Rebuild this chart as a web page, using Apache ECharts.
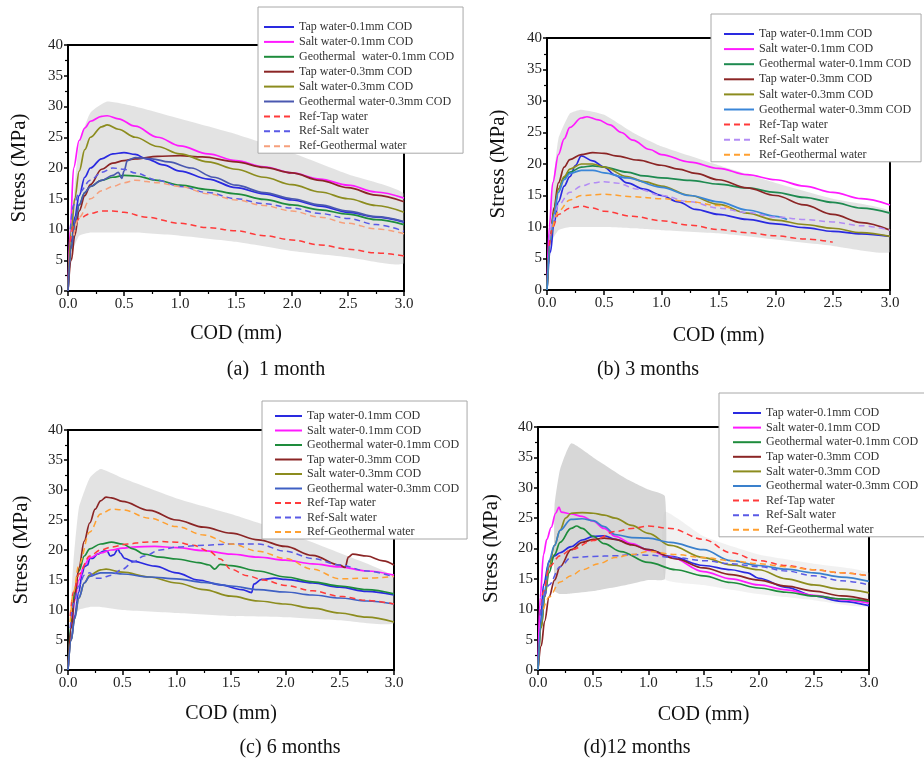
<!DOCTYPE html>
<html><head><meta charset="utf-8">
<script src="https://cdn.jsdelivr.net/npm/echarts@6/dist/echarts.min.js"></script>
<style>html,body{margin:0;padding:0;background:#fff}#c{width:924px;height:763px}</style>
</head><body><div id="c"></div>
<script>
// ---------- labels ----------
const seriesNames = ['Tap water-0.1mm COD','Salt water-0.1mm COD','Geothermal water-0.1mm COD','Tap water-0.3mm COD','Salt water-0.3mm COD','Geothermal water-0.3mm COD','Ref-Tap water','Ref-Salt water','Ref-Geothermal water'];
const seriesNamesA = ['Tap water-0.1mm COD','Salt water-0.1mm COD','Geothermal  water-0.1mm COD','Tap water-0.3mm COD','Salt water-0.3mm COD','Geothermal water-0.3mm COD','Ref-Tap water','Ref-Salt water','Ref-Geothermal water'];
const captions = ['(a)  1 month','(b) 3 months','(c) 6 months','(d)12 months'];
const xTickValues = [0,0.5,1,1.5,2,2.5,3];
const yTickValues = [0,5,10,15,20,25,30,35,40];

// ---------- panel (a) 1 month ----------
const a_tap01 = [[0,0],[0.03,8],[0.06,12],[0.1,15.5],[0.15,18.5],[0.2,20],[0.3,21.5],[0.4,22.3],[0.5,22.5],[0.6,22.2],[0.7,21.5],[0.85,20.5],[1.0,19.5],[1.25,18.2],[1.5,16.8],[1.75,15.8],[2.0,14.8],[2.25,13.8],[2.5,12.8],[2.75,12],[3.0,11.2]];
const a_salt01 = [[0,0],[0.02,10],[0.05,20],[0.1,24.5],[0.15,26.5],[0.2,27.6],[0.3,28.4],[0.35,28.5],[0.45,28],[0.6,26.8],[0.8,25],[1.0,23.6],[1.25,22.3],[1.5,21.2],[1.75,20.2],[2.0,19.2],[2.25,18.2],[2.5,17.2],[2.75,16.1],[3.0,15.1]];
const a_geo01 = [[0,0],[0.03,7],[0.06,11],[0.1,14],[0.15,16],[0.2,17],[0.3,18],[0.4,18.5],[0.5,18.8],[0.6,18.7],[0.8,18],[1.0,17.2],[1.25,16.5],[1.5,15.8],[1.75,14.9],[2.0,14],[2.25,13.2],[2.5,12.5],[2.75,11.6],[3.0,10.8]];
const a_tap03 = [[0,0],[0.03,5],[0.06,9],[0.1,13],[0.15,15.5],[0.2,17.3],[0.3,19.8],[0.4,20.8],[0.5,21.2],[0.6,21.5],[0.8,21.9],[1.0,22],[1.2,21.8],[1.5,21],[1.75,20.1],[2.0,19.2],[2.25,18],[2.5,16.8],[2.75,15.6],[3.0,14.5]];
const a_salt03 = [[0,0],[0.03,10],[0.06,15],[0.1,19.5],[0.15,23],[0.2,25],[0.3,26.7],[0.35,27],[0.45,26.3],[0.6,25],[0.8,23.5],[1.0,22.3],[1.25,21],[1.5,19.8],[1.75,18.5],[2.0,17.3],[2.25,16.1],[2.5,15],[2.75,13.9],[3.0,12.8]];
const a_geo03 = [[0,0],[0.03,7],[0.06,11],[0.1,14],[0.15,16],[0.2,17],[0.3,18],[0.4,18.8],[0.45,19.3],[0.48,18.3],[0.5,19.5],[0.53,21.2],[0.6,21.7],[0.75,21.5],[0.9,21],[1.1,20],[1.3,18.5],[1.5,17.2],[1.75,16],[2.0,15],[2.25,14],[2.5,13],[2.75,12.1],[3.0,11.3]];
const a_refTap = [[0.02,8],[0.05,10.5],[0.1,11.8],[0.2,12.6],[0.3,13],[0.4,13],[0.5,12.8],[0.7,12],[1.0,11],[1.25,10.3],[1.5,9.8],[1.75,9],[2.0,8.3],[2.25,7.5],[2.5,6.8],[2.75,6.2],[3.0,5.7]];
const a_refSalt = [[0.02,10],[0.05,14],[0.1,16],[0.2,18],[0.3,19.3],[0.4,20],[0.5,19.8],[0.6,19.2],[0.8,18],[1.0,17],[1.25,16],[1.5,15],[1.75,14.2],[2.0,13.5],[2.25,12.6],[2.5,11.8],[2.75,10.8],[3.0,9.7]];
const a_refGeo = [[0.05,9],[0.1,12],[0.2,15],[0.3,16.3],[0.4,17],[0.5,17.6],[0.6,18],[0.8,17.6],[1.0,17],[1.25,15.8],[1.5,14.8],[1.75,13.9],[2.0,13],[2.25,12],[2.5,11],[2.75,10.1],[3.0,9.3]];
const a_bandX = [0.02,0.05,0.1,0.2,0.35,0.6,1.0,1.5,2.0,2.5,3.0];
const a_bandLow = [5,7,9,9.5,9.5,9.5,9,8,6.5,5.5,4.5];
const a_bandHigh = [8,15,24,29,30.8,30,28,25.5,22.5,19,15.8];

// ---------- panel (b) 3 months ----------
const b_tap01 = [[0,0],[0.03,6],[0.06,10.5],[0.1,14],[0.15,16.5],[0.2,18],[0.25,19.8],[0.3,21.3],[0.4,20.5],[0.5,19.5],[0.6,18.2],[0.7,17],[0.85,16],[1.0,15],[1.15,14],[1.3,12.8],[1.5,12],[1.75,11.2],[2.0,10.5],[2.25,9.9],[2.5,9.3],[2.75,8.9],[3.0,8.5]];
const b_salt01 = [[0,0],[0.02,10],[0.05,17],[0.1,21.5],[0.15,24],[0.2,25.8],[0.3,27.3],[0.35,27.5],[0.45,27],[0.55,26.2],[0.65,25],[0.75,23.8],[0.9,22.3],[1.0,21.5],[1.25,20.3],[1.5,19.3],[1.75,18.3],[2.0,17.5],[2.25,16.5],[2.5,15.5],[2.75,14.5],[3.0,13.5]];
const b_geo01 = [[0,0],[0.03,8],[0.06,12.5],[0.1,16],[0.15,17.8],[0.2,18.7],[0.3,19.5],[0.4,19.7],[0.5,19.5],[0.7,18.7],[0.85,18.1],[1.0,17.8],[1.25,17.4],[1.5,16.8],[1.75,16.2],[2.0,15.5],[2.25,14.7],[2.5,13.9],[2.75,13],[3.0,12.2]];
const b_tap03 = [[0,0],[0.03,8],[0.06,13],[0.1,17],[0.15,19.5],[0.2,20.7],[0.3,21.5],[0.4,21.8],[0.5,21.7],[0.6,21.3],[0.8,20.6],[1.0,19.8],[1.15,19.2],[1.3,18.5],[1.5,17.5],[1.75,16.2],[2.0,15],[2.25,13.5],[2.5,12],[2.75,10.7],[3.0,9.5]];
const b_salt03 = [[0,0],[0.03,8],[0.06,12.5],[0.1,16],[0.15,18],[0.2,19.2],[0.3,20],[0.4,20],[0.5,19.5],[0.7,18],[0.85,17.2],[1.0,16.5],[1.25,15],[1.5,13.6],[1.75,12.2],[2.0,11.1],[2.25,10.4],[2.5,9.8],[2.75,9.1],[3.0,8.5]];
const b_geo03 = [[0,0],[0.03,8],[0.06,12],[0.1,15.5],[0.15,17.5],[0.2,18.5],[0.3,19],[0.4,19],[0.5,18.6],[0.7,17.8],[1.0,16.3],[1.25,15],[1.5,14],[1.75,12.7],[2.0,11.7],[2.1,11.2]];
const b_refTap = [[0.02,7],[0.05,10],[0.1,12],[0.2,13],[0.3,13.3],[0.4,13],[0.5,12.5],[0.75,11.7],[1.0,11],[1.25,10.3],[1.5,9.6],[1.75,9.1],[2.0,8.6],[2.25,8.1],[2.5,7.6]];
const b_refSalt = [[0.02,8],[0.05,11],[0.1,13.5],[0.2,15.5],[0.3,16.5],[0.4,17],[0.5,17.2],[0.6,17],[0.8,16],[1.0,15],[1.25,14],[1.5,13],[1.75,12.3],[2.0,11.6],[2.25,11.2],[2.5,10.8],[2.75,10.2],[3.0,9.5]];
const b_refGeo = [[0.05,10],[0.1,12.5],[0.2,14.3],[0.3,15],[0.5,15.2],[0.75,14.8],[1.0,14.5],[1.25,14],[1.5,13.4],[1.6,13]];
const b_bandX = [0.02,0.05,0.1,0.2,0.3,0.5,0.75,1.0,1.5,2.0,2.5,3.0];
const b_bandLow = [5,8,9.5,10,10,10,9.8,9.5,9,8,7,6];
const b_bandHigh = [8,16,24,28,28.6,27.8,25,22.8,19.8,17,14.5,12.5];

// ---------- panel (c) 6 months ----------
const c_tap01 = [[0,0],[0.03,5],[0.06,9],[0.1,13],[0.13,16],[0.15,17.2],[0.18,17.5],[0.2,18.6],[0.23,18.6],[0.27,19.3],[0.33,19.8],[0.36,19.8],[0.39,19],[0.42,19.2],[0.46,20.2],[0.48,19.5],[0.52,18.6],[0.6,18.1],[0.8,17.3],[1.0,16.2],[1.2,15],[1.4,14.2],[1.6,13.4],[1.69,12.9],[1.71,14.3],[1.78,15.1],[1.9,15.3],[2.0,15.1],[2.25,14.5],[2.5,13.8],[2.75,13.1],[3.0,12.5]];
const c_salt01 = [[0,0],[0.03,7],[0.06,11.5],[0.1,15],[0.15,17.5],[0.2,18.7],[0.3,19.5],[0.4,20],[0.5,20.3],[0.6,20.5],[0.8,20.6],[1.0,20.4],[1.25,19.9],[1.5,19.3],[1.75,18.8],[2.0,18.3],[2.25,17.7],[2.5,17.2],[2.75,16.5],[3.0,15.8]];
const c_geo01 = [[0,0],[0.03,8],[0.06,13],[0.1,16.5],[0.15,19],[0.2,20.2],[0.3,21],[0.4,21.3],[0.5,21],[0.6,20.2],[0.7,19.3],[0.85,18.8],[1.0,18.5],[1.2,17.9],[1.3,17.5],[1.35,16.8],[1.4,17.6],[1.5,17.4],[1.75,16.5],[2.0,15.5],[2.25,14.7],[2.5,14],[2.75,13.4],[3.0,12.7]];
const c_tap03 = [[0,0],[0.03,7],[0.06,12],[0.1,17],[0.15,21.5],[0.2,24.5],[0.25,26.8],[0.3,28.2],[0.35,28.8],[0.4,28.7],[0.5,28.1],[0.75,26.6],[1.0,25],[1.25,23.8],[1.5,22.8],[1.75,21.7],[2.0,20.6],[2.25,19.1],[2.5,17.5],[2.55,17.1],[2.58,18.8],[2.62,19.3],[2.75,19],[2.9,18.2],[3.0,17.5]];
const c_salt03 = [[0,0],[0.03,5],[0.06,8.5],[0.1,12],[0.15,14.5],[0.2,15.8],[0.3,16.7],[0.35,16.8],[0.5,16.3],[0.75,15.5],[1.0,14.5],[1.25,13.4],[1.5,12.3],[1.75,11.5],[2.0,11],[2.25,10.3],[2.5,9.5],[2.75,8.8],[3.0,8]];
const c_geo03 = [[0,0],[0.03,5],[0.06,8.5],[0.1,12],[0.15,14.5],[0.2,15.6],[0.3,16.2],[0.4,16.2],[0.5,16],[0.75,15.5],[1.0,15.2],[1.25,14.6],[1.5,14],[1.75,13.4],[2.0,13],[2.25,12.5],[2.5,12],[2.75,11.5],[3.0,11]];
const c_refTap = [[0.02,9],[0.05,13],[0.1,16],[0.2,19],[0.3,20],[0.4,20.5],[0.55,21],[0.7,21.3],[0.85,21.4],[1.0,21.3],[1.15,20.8],[1.3,19.8],[1.4,18.5],[1.5,16.8],[1.65,15.7],[1.8,15],[2.0,14.1],[2.25,13.2],[2.5,12.3],[2.75,11.6],[3.0,11]];
const c_refSalt = [[0.02,7],[0.05,11],[0.1,14],[0.15,15.8],[0.2,16.2],[0.25,15.3],[0.3,15.3],[0.4,15.8],[0.5,16.8],[0.6,18],[0.7,19],[0.85,20],[1.0,20.5],[1.25,20.8],[1.5,21],[1.75,21],[2.0,19.8],[2.25,18.6],[2.5,17.5],[2.75,16.5],[3.0,15.5]];
const c_refGeo = [[0.02,8],[0.05,13],[0.1,17.5],[0.2,23],[0.3,26],[0.4,26.8],[0.5,26.7],[0.75,25.3],[1.0,23.9],[1.25,22.5],[1.5,21],[1.75,19.8],[2.0,18.6],[2.25,16.8],[2.5,15.2],[2.75,15.3],[3.0,15.6]];
const c_bandX = [0.02,0.05,0.1,0.2,0.3,0.5,1.0,1.5,2.0,2.5,3.0];
const c_bandLow = [5,8,10,10.5,10.5,10,9.5,9,8.8,8.3,7.8];
const c_bandHigh = [9,18,27,32,33.5,32,28.6,26,23,19.5,15.5];

// ---------- panel (d) 12 months ----------
const d_tap01 = [[0,0],[0.02,7],[0.05,14],[0.1,17.8],[0.15,18.8],[0.2,19.3],[0.3,20.3],[0.4,21.4],[0.5,22],[0.6,22.1],[0.7,21.5],[0.85,20.7],[1.0,19.8],[1.2,18.7],[1.5,17.2],[1.75,16.5],[1.9,16],[2.0,15.1],[2.25,13.6],[2.5,12.2],[2.75,11.3],[3.0,10.6]];
const d_salt01 = [[0,0],[0.02,12],[0.05,19],[0.08,21.5],[0.12,23.5],[0.16,25.8],[0.19,26.8],[0.21,26],[0.3,25.7],[0.4,25.3],[0.5,24.5],[0.6,23.3],[0.7,22],[0.85,20.8],[1.0,19.7],[1.2,18.6],[1.5,16.2],[1.75,15],[2.0,14],[2.25,13.2],[2.5,12.3],[2.75,11.6],[3.0,11]];
const d_geo01 = [[0,0],[0.03,7],[0.06,12],[0.1,16],[0.15,19],[0.2,21],[0.3,23.3],[0.35,23.7],[0.4,23.3],[0.5,22],[0.6,20.8],[0.75,19.5],[1.0,17.7],[1.25,16.5],[1.5,15.5],[1.75,14.4],[2.0,13.5],[2.25,12.8],[2.5,12.2],[2.75,11.7],[3.0,11.3]];
const d_tap03 = [[0,0],[0.03,4],[0.06,8],[0.1,12],[0.15,14.8],[0.2,17],[0.3,19.8],[0.4,21],[0.5,21.5],[0.6,21.7],[0.7,21.5],[0.85,20.6],[1.0,19.8],[1.25,18.3],[1.5,16.8],[1.75,15.7],[2.0,14.8],[2.25,13.8],[2.5,13],[2.75,12.2],[3.0,11.5]];
const d_salt03 = [[0,0],[0.03,7],[0.06,12],[0.1,17],[0.15,20.5],[0.2,23],[0.25,25],[0.3,25.8],[0.4,25.9],[0.5,25.8],[0.6,25.5],[0.7,25],[0.85,23.8],[1.0,22.5],[1.2,20.5],[1.5,18.5],[1.75,17.3],[2.0,16.5],[2.25,15],[2.5,14],[2.75,13.3],[3.0,12.7]];
const d_geo03 = [[0,0],[0.03,8],[0.06,13],[0.1,18],[0.15,20.5],[0.2,23],[0.3,24.8],[0.4,24.9],[0.5,24.6],[0.6,23.6],[0.7,22.3],[0.85,21.8],[1.0,21.7],[1.2,21],[1.5,19.8],[1.75,18],[2.0,17.2],[2.25,16.6],[2.5,16],[2.75,15.3],[3.0,14.6]];
const d_refTap = [[0.02,9],[0.05,13],[0.1,17],[0.2,18.8],[0.3,19.8],[0.5,21.3],[0.7,22.8],[0.85,23.3],[1.0,23.7],[1.2,23.3],[1.5,21.5],[1.75,19.3],[2.0,18],[2.25,17.2],[2.5,16.5],[2.75,16],[3.0,15.5]];
const d_refSalt = [[0.02,9],[0.05,12],[0.1,14],[0.2,17],[0.3,18.5],[0.5,18.7],[0.7,18.8],[0.85,19],[1.0,18.9],[1.25,18.5],[1.5,18],[1.75,17.5],[2.0,17],[2.25,16.3],[2.5,15.5],[2.75,14.7],[3.0,14]];
const d_refGeo = [[0.05,10],[0.1,12],[0.2,14.5],[0.3,15.5],[0.4,16.5],[0.55,17.5],[0.7,18.5],[0.85,19],[1.0,19.5],[1.25,19],[1.5,18.5],[1.75,18],[2.0,17.5],[2.25,17],[2.5,16.5],[2.75,16],[3.0,15.5]];
const d_bandX = [0.15,0.2,0.3,0.5,0.8,1.0,1.15];
const d_bandLow = [13,12.5,12.6,13,14,14.8,15];
const d_bandHigh = [27,33,37.3,35,31.5,29.7,28.6];
const d_band2X = [1.15,1.5,2.0,2.5,3.0];
const d_band2Low = [15,14,12.5,11.5,10.5];
const d_band2High = [26,22,19,17.5,16];

// ---------- styling (not data) ----------
const SERIF = "'Liberation Serif','Times New Roman',serif";
const colorsA = ['#2a2ae0','#ff1aff','#1e8c3c','#8b2525','#8c8c1e','#4a58b0','#ff3a3a','#5a5ae6','#f6a07c'];
const colorsB = ['#2a2ae0','#ff1aff','#1e8a50','#8b2525','#8c8c1e','#3a86d8','#ff3a3a','#b38cf5','#ffa030'];
const colorsC = ['#2a2ae0','#ff1aff','#1e8c3c','#8b2525','#8c8c1e','#3f60c4','#ff3a3a','#5a5ae6','#ffa030'];
const colorsD = ['#2a2ae0','#ff1aff','#1e8c3c','#8b2525','#8c8c1e','#3a80cc','#ff3a3a','#5a5ae6','#ffa030'];

const panels = [
  {id:'a', grid:{left:68, top:45, width:336, height:246}, data:[a_tap01,a_salt01,a_geo01,a_tap03,a_salt03,a_geo03,a_refTap,a_refSalt,a_refGeo], names:seriesNamesA, colors:colorsA,
   bands:[{x:a_bandX, lo:a_bandLow, hi:a_bandHigh, color:'rgba(185,185,185,0.4)'}],
   legend:{left:258, top:7, padding:[14,9,1,5], itemWidth:30, itemGap:2.9}, yGap:38, xGap:33, cap:{x:276, y:370}},
  {id:'b', grid:{left:547, top:38, width:343, height:252}, data:[b_tap01,b_salt01,b_geo01,b_tap03,b_salt03,b_geo03,b_refTap,b_refSalt,b_refGeo], names:seriesNames, colors:colorsB,
   bands:[{x:b_bandX, lo:b_bandLow, hi:b_bandHigh, color:'rgba(185,185,185,0.4)'}],
   legend:{left:711, top:14, padding:[14,10,1,12], itemWidth:30, itemGap:3.1}, yGap:38, xGap:36, cap:{x:648, y:370}},
  {id:'c', grid:{left:68, top:430, width:326, height:240}, data:[c_tap01,c_salt01,c_geo01,c_tap03,c_salt03,c_geo03,c_refTap,c_refSalt,c_refGeo], names:seriesNames, colors:colorsC,
   bands:[{x:c_bandX, lo:c_bandLow, hi:c_bandHigh, color:'rgba(185,185,185,0.4)'}],
   legend:{left:262, top:401, padding:[9,8,1,12], itemWidth:27, itemGap:2.5}, yGap:36, xGap:34, cap:{x:290, y:748}},
  {id:'d', grid:{left:538, top:427, width:331, height:243}, data:[d_tap01,d_salt01,d_geo01,d_tap03,d_salt03,d_geo03,d_refTap,d_refSalt,d_refGeo], names:seriesNames, colors:colorsD,
   bands:[{x:d_bandX, lo:d_bandLow, hi:d_bandHigh, color:'rgba(175,175,175,0.5)'},{x:d_band2X, lo:d_band2Low, hi:d_band2High, color:'rgba(200,200,200,0.25)'}],
   legend:{left:719, top:393, padding:[14,8,1,13], itemWidth:28, itemGap:2.6}, yGap:36, xGap:35, cap:{x:637, y:748}}
];

const grids=[], xAxes=[], yAxes=[], series=[], legends=[], graphics=[];
panels.forEach((p, i) => {
  grids.push({left:p.grid.left, top:p.grid.top, width:p.grid.width, height:p.grid.height, show:true, borderColor:'#000', borderWidth:2, backgroundColor:'transparent'});
  xAxes.push({type:'value', gridIndex:i, min:0, max:3, interval:0.5,
    name:'COD (mm)', nameLocation:'middle', nameGap:p.xGap, nameTextStyle:{fontFamily:SERIF, fontSize:20, color:'#111'},
    axisLine:{lineStyle:{color:'#000', width:2}}, axisTick:{show:true, length:5, lineStyle:{color:'#000', width:1.5}},
    minorTick:{show:true, splitNumber:2, length:3, lineStyle:{color:'#000', width:1.2}},
    splitLine:{show:false},
    axisLabel:{fontFamily:SERIF, fontSize:15, color:'#222', margin:6, formatter:v => xTickValues.includes(v) ? v.toFixed(1) : ''}});
  yAxes.push({type:'value', gridIndex:i, min:0, max:40, interval:5,
    name:'Stress (MPa)', nameLocation:'middle', nameGap:p.yGap, nameTextStyle:{fontFamily:SERIF, fontSize:21, color:'#111'},
    axisLine:{lineStyle:{color:'#000', width:2}}, axisTick:{show:true, length:4, lineStyle:{color:'#000', width:1.5}},
    minorTick:{show:true, splitNumber:2, length:3, lineStyle:{color:'#000', width:1.2}},
    splitLine:{show:false},
    axisLabel:{fontFamily:SERIF, fontSize:15, color:'#222', margin:5, formatter:v => yTickValues.includes(v) ? String(v) : ''}});
  // grey scatter band drawn as a polygon through the axis scales
  p.bands.forEach((b, k) => {
    series.push({type:'custom', name:p.id+'_band'+k, xAxisIndex:i, yAxisIndex:i, silent:true, z:1, clip:true,
      data:[[b.x[0], b.lo[0]]],
      renderItem:(params, api) => {
        const up = b.x.map((x,j)=>api.coord([x,b.hi[j]]));
        const dn = b.x.map((x,j)=>api.coord([x,b.lo[j]])).reverse();
        return {type:'polygon', shape:{points:up.concat(dn), smooth:0.15}, style:{fill:b.color, stroke:null}};
      }});
  });
  const legendData = [];
  p.data.forEach((d, k) => {
    const nm = p.id + '|' + p.names[k];
    legendData.push(nm);
    const dashed = k >= 6;
    series.push({type:'line', name:nm, xAxisIndex:i, yAxisIndex:i, data:d, symbol:'none', smooth:0.35, smoothMonotone:'x', z:3,
      color:p.colors[k],
      lineStyle:{color:p.colors[k], width:dashed?1.5:1.7, type:dashed?[6,4]:'solid'}});
  });
  legends.push({orient:'vertical', left:p.legend.left, top:p.legend.top, padding:p.legend.padding,
    itemWidth:p.legend.itemWidth, itemHeight:12, itemGap:p.legend.itemGap,
    backgroundColor:'#fff', borderColor:'#a8a8a8', borderWidth:1, borderRadius:0,
    data:legendData, selectedMode:false,
    itemStyle:{opacity:0, borderWidth:0},
    formatter:n => n.split('|')[1],
    textStyle:{fontFamily:SERIF, fontSize:12, lineHeight:12, color:'#333'}});
  graphics.push({x:p.cap.x, y:p.cap.y, text:captions[i]});
});

const chart = echarts.init(document.getElementById('c'), null, {renderer:'canvas'});
chart.setOption({
  animation:false,
  backgroundColor:'#fff',
  textStyle:{fontFamily:SERIF},
  grid:grids, xAxis:xAxes, yAxis:yAxes, series:series, legend:legends,
  graphic:graphics.map(g => ({type:'text', x:g.x, y:g.y, z:10,
    style:{text:g.text, font:'20px ' + SERIF, fill:'#111', textAlign:'center', textVerticalAlign:'middle'}}))
});
</script></body></html>
